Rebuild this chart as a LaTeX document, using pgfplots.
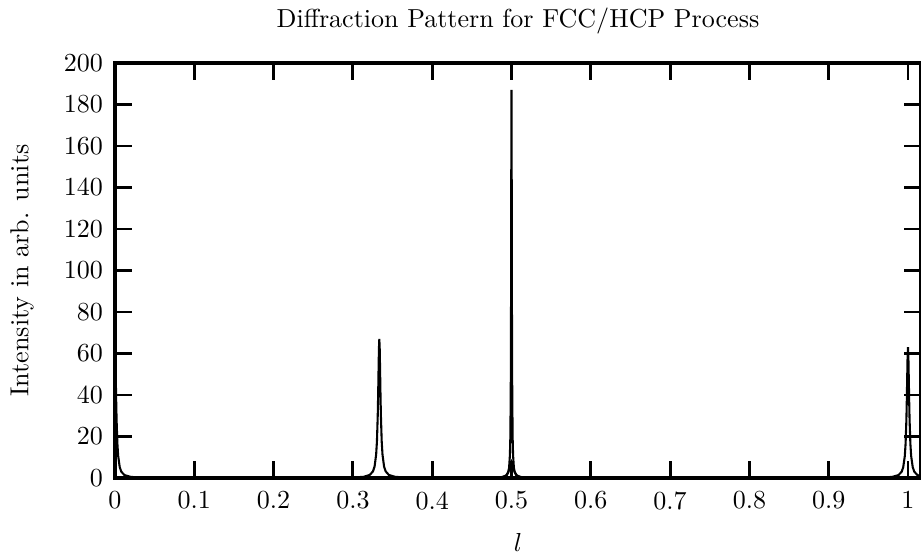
\documentclass[border=0pt]{standalone}
\usepackage{pgfplots}
\pgfplotsset{compat=1.18}

\pgfplotstableread{
x y
0 63
0.0005 58.5
0.001 48.1
0.0015 37.2
0.002 28.2
0.003 16.7
0.004 10.6
0.006 5.2
0.008 3.0
0.012 1.39
0.02 0.51
0.04 0.13
0.1 0.02
0.2 0.02
0.29333 0.13
0.31333 0.54
0.32133 1.47
0.32533 3.2
0.32733 5.5
0.32933 11.3
0.33033 17.7
0.33133 30.0
0.33183 39.5
0.33233 51.2
0.33283 62.2
0.33333 67
0.33383 62.2
0.33433 51.2
0.33483 39.5
0.33533 30.0
0.33633 17.7
0.33733 11.3
0.33933 5.5
0.34133 3.2
0.34533 1.47
0.35333 0.54
0.37333 0.13
0.42 0.03
0.46 0.03
0.48 0.12
0.488 0.32
0.492 0.73
0.494 1.29
0.496 2.88
0.497 5.05
0.498 11.0
0.4985 18.7
0.499 37.4
0.4992 52.5
0.4994 76.6
0.4996 114.0
0.4998 161.2
0.5 187
0.5002 161.2
0.5004 114.0
0.5006 76.6
0.5008 52.5
0.501 37.4
0.5015 18.7
0.502 11.0
0.503 5.05
0.504 2.88
0.506 1.29
0.508 0.73
0.512 0.32
0.52 0.12
0.54 0.03
0.7 0.02
0.9 0.02
0.96 0.13
0.98 0.51
0.988 1.39
0.992 3.0
0.994 5.2
0.996 10.6
0.997 16.7
0.998 28.2
0.9985 37.2
0.999 48.1
0.9995 58.5
1 63
1.0005 58.5
1.001 48.1
1.0015 37.2
1.002 28.2
1.003 16.7
1.004 10.6
1.006 5.2
1.008 3.0
1.012 1.39
1.02 0.51
}\maindata

% broad component under the l=1/2 peak
\pgfplotstableread{
x y
0.47 0.08
0.48 0.18
0.488 0.47
0.492 0.99
0.494 1.6
0.496 2.9
0.497 4.0
0.498 5.5
0.499 7.2
0.5 8
0.501 7.2
0.502 5.5
0.503 4.0
0.504 2.9
0.506 1.6
0.508 0.99
0.512 0.47
0.52 0.18
0.53 0.08
}\broaddata

\begin{document}
\begin{tikzpicture}
\begin{axis}[
    anchor=south west, at={(0,0)},
    scale only axis,
    width=10.881cm, height=5.6025cm,
    xmin=0, xmax=1.0164,
    ymin=0, ymax=200,
    xtick={0,0.1,...,1},
    ytick={0,20,...,200},
    xticklabels={0,0.1,0.2,0.3,0.4,0.5,0.6,0.7,0.8,0.9,1},
    tick align=inside,
    major tick length=0.23cm,
    tick style={line width=1.1pt, black},
    axis line style={line width=1.5pt},
    xticklabel style={yshift=-0.06cm},
    yticklabel style={xshift=-0.04cm},
    title={Diffraction Pattern for FCC/HCP Process},
    title style={yshift=0.05cm},
    xlabel={$l$},
    ylabel={Intensity in arb. units},
    every axis x label/.style={at={(axis description cs:0.5,-0.155)}, anchor=center},
    every axis y label/.style={at={(axis description cs:-0.1153,0.5)}, rotate=90, anchor=center},
]
\addplot[black, line width=0.8pt, sharp plot] table[x=x, y=y] {\maindata};
\addplot[black, line width=0.8pt, sharp plot] table[x=x, y=y] {\broaddata};
\end{axis}
\pgfresetboundingbox
\path[use as bounding box] (-1.5525cm,-1.08cm) rectangle (10.881cm,6.453cm);
\end{tikzpicture}
\end{document}
